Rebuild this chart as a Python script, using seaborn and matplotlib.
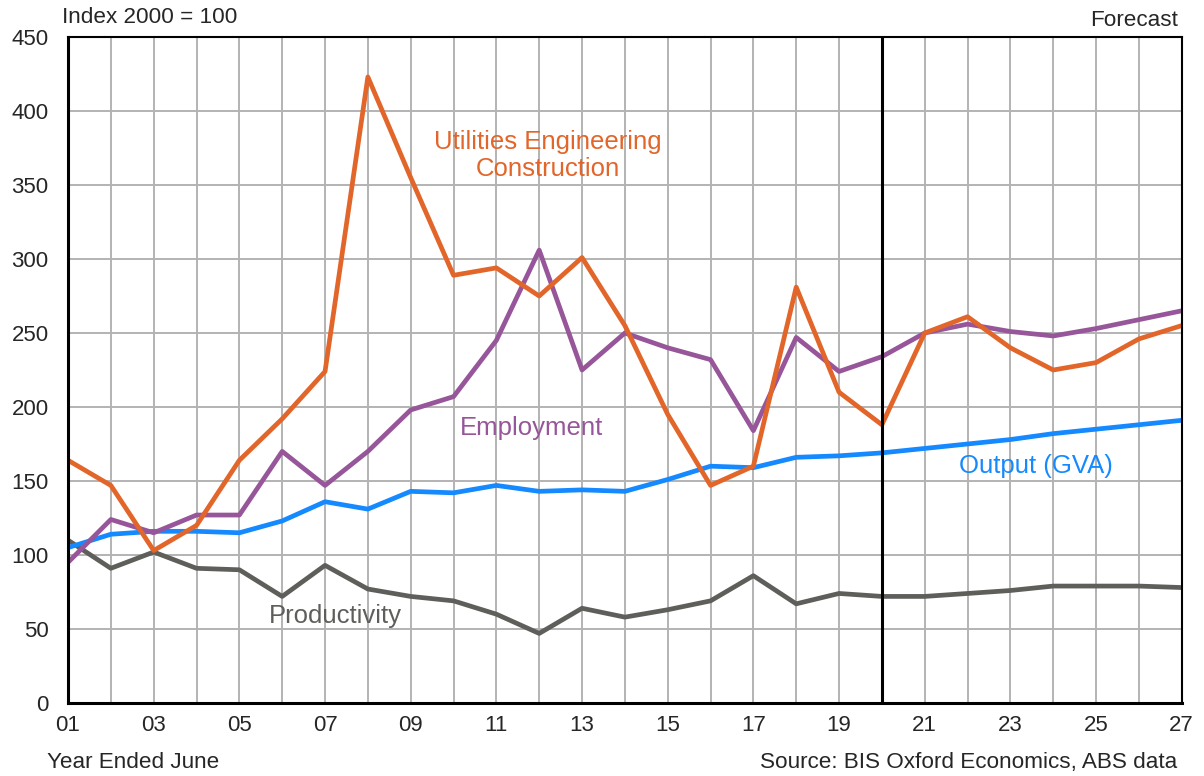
import numpy as np
import pandas as pd
import matplotlib
matplotlib.use("Agg")
import matplotlib.pyplot as plt
import seaborn as sns

# years ended June, 2001-2027
years = list(range(2001, 2028))
utilities = [164, 147, 103, 120, 164, 192, 224, 423, 355, 289, 294, 275, 301, 255,
             195, 147, 160, 281, 210, 188, 250, 261, 240, 225, 230, 246, 255]
employment = [95, 124, 115, 127, 127, 170, 147, 170, 198, 207, 245, 306, 225, 250,
              240, 232, 184, 247, 224, 234, 250, 256, 251, 248, 253, 259, 265]
output = [105, 114, 116, 116, 115, 123, 136, 131, 143, 142, 147, 143, 144, 143,
          151, 160, 159, 166, 167, 169, 172, 175, 178, 182, 185, 188, 191]
productivity = [110, 91, 102, 91, 90, 72, 93, 77, 72, 69, 60, 47, 64, 58,
                63, 69, 86, 67, 74, 72, 72, 74, 76, 79, 79, 79, 78]
forecast_start = 2020

sns.set_style("white")
plt.rcParams["font.family"] = ["Liberation Sans", "DejaVu Sans"]

df = pd.DataFrame({"year": years, "Utilities": utilities, "Employment": employment,
                   "Output": output, "Productivity": productivity})

fig = plt.figure(figsize=(12.04, 7.76), dpi=100)
ax = fig.add_axes([0.0565, 0.0941, 0.925, 0.8582])

colors = {"Productivity": "#5E5F5B", "Output": "#1589FF",
          "Employment": "#97569A", "Utilities": "#E2652A"}
for col in ["Productivity", "Output", "Employment", "Utilities"]:
    sns.lineplot(data=df, x="year", y=col, ax=ax, color=colors[col], linewidth=3.4)

ax.axvline(forecast_start, color="black", linewidth=2.2, zorder=5)

ax.set_xlim(2001, 2027)
ax.set_ylim(0, 450)
ax.set_xticks(range(2001, 2028))
ax.set_xticklabels([f"{y % 100:02d}" if (y - 2001) % 2 == 0 else "" for y in years])
ax.set_yticks(range(0, 451, 50))
ax.grid(True, color="#B3B3B3", linewidth=1.4)
ax.set_axisbelow(True)
ax.tick_params(axis="both", labelsize=16, length=0)
ax.tick_params(axis="x", pad=9)
ax.tick_params(axis="y", pad=14)
ax.set_xlabel("")
ax.set_ylabel("")
for s in ax.spines.values():
    s.set_color("black")
    s.set_linewidth(1.5)
ax.spines["bottom"].set_linewidth(2.2)
ax.spines["left"].set_linewidth(2.2)

ax.text(2012.2, 370, "Utilities Engineering\nConstruction", color="#E2652A",
        fontsize=18.5, ha="center", va="center", linespacing=1.2)
ax.text(2010.15, 186, "Employment", color="#97569A", fontsize=18.5, ha="left", va="center")
ax.text(2021.8, 160, "Output (GVA)", color="#1589FF", fontsize=18.5, ha="left", va="center")
ax.text(2005.7, 59, "Productivity", color="#5E5F5B", fontsize=18.5, ha="left", va="center")

fig.text(0.0515, 0.977, "Index 2000 = 100", fontsize=16.2, ha="left", va="center")
fig.text(0.978, 0.974, "Forecast", fontsize=16.2, ha="right", va="center")
fig.text(0.039, 0.017, "Year Ended June", fontsize=16.2, ha="left", va="center")
fig.text(0.978, 0.017, "Source: BIS Oxford Economics, ABS data", fontsize=16.2,
         ha="right", va="center")

fig.savefig("out.png", dpi=100)
